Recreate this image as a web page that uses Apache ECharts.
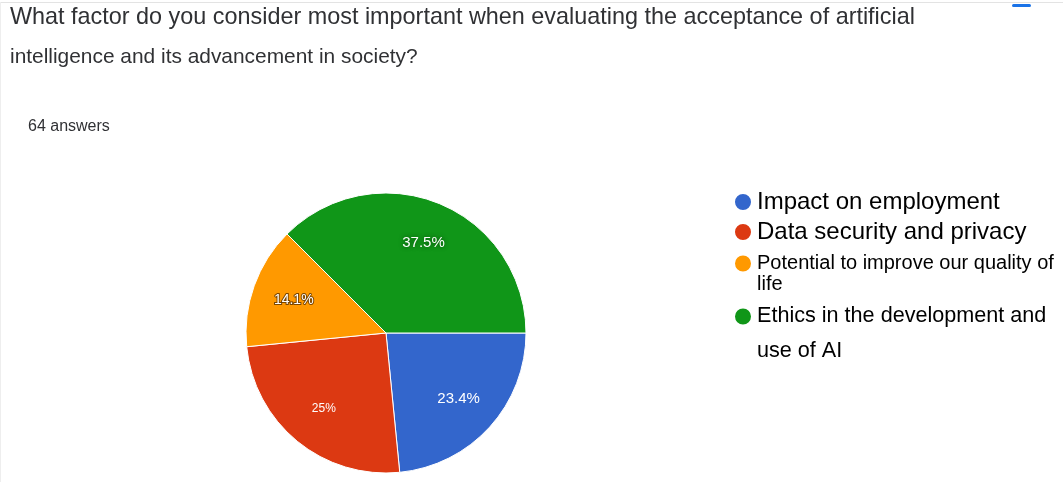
<!DOCTYPE html>
<html>
<head>
<meta charset="utf-8">
<script src="https://cdn.jsdelivr.net/npm/echarts@6/dist/echarts.min.js"></script>
<style>
  html, body { margin: 0; padding: 0; background: #fff; }
  #chart { width: 1063px; height: 482px; }
</style>
</head>
<body>
<div id="chart"></div>
<script>
// Survey responses (64 answers)
const categories = [
  'Impact on employment',
  'Data security and privacy',
  'Potential to improve our quality of life',
  'Ethics in the development and use of AI'
];
const counts = [15, 16, 9, 24];
const percentLabels = ['23.4%', '25%', '14.1%', '37.5%'];
const colors = ['#3366cc', '#dc3912', '#ff9900', '#109618'];
// legend text as shown, with its line breaks; the leading blank line keeps
// the marker beside the first visible line of a wrapped entry
const legendLines = [
  'Impact on employment',
  'Data security and privacy',
  '\nPotential to improve our quality of\nlife',
  '\nEthics in the development and\nuse of AI'
];
const questionLines = [
  'What factor do you consider most important when evaluating the acceptance of artificial',
  'intelligence and its advancement in society?'
];
const answerCount = '64 answers';

const FONT = 'Liberation Sans, Arial, sans-serif';
const CENTER = [386, 333];

// per-slice label styling for the percentages drawn on the pie
const labelStyles = [
  { fontSize: 15 },
  { fontSize: 12 },
  { fontSize: 14, textBorderColor: 'rgba(90,50,0,0.8)', textBorderWidth: 2 },
  { fontSize: 15, textShadowColor: 'rgba(0,40,0,0.8)', textShadowBlur: 4 }
];

const mainData = categories.map((name, i) => ({
  name, value: counts[i], itemStyle: { color: colors[i] }
}));
const labelData = categories.map((name, i) => ({
  name, value: counts[i],
  label: Object.assign({ formatter: percentLabels[i] }, labelStyles[i])
}));

// legend: one component per entry so each can carry its own size and spacing
const legendSpecs = [
  { top: 189, size: 24, lh: 26 },
  { top: 219, size: 24, lh: 26 },
  { top: 232, size: 20, lh: 21 },
  { top: 264, size: 21.6, lh: 35 }
];
const legends = legendSpecs.map((s, i) => ({
  data: [categories[i]],
  left: 733,
  top: s.top,
  padding: 0,
  icon: 'circle',
  itemWidth: 18,
  itemHeight: 18,
  selectedMode: false,
  formatter: () => legendLines[i],
  textStyle: {
    fontFamily: FONT,
    fontSize: s.size,
    lineHeight: s.lh,
    color: '#000'
  }
}));

const chart = echarts.init(document.getElementById('chart'), null, { renderer: 'canvas' });
chart.setOption({
  animation: false,
  backgroundColor: '#fff',
  legend: legends,
  graphic: [
    { type: 'rect', shape: { x: 0, y: 2, width: 1063, height: 1 }, style: { fill: '#e3e3e3' } },
    { type: 'rect', shape: { x: 0, y: 2, width: 1, height: 480 }, style: { fill: '#eeeeee' } },
    { type: 'rect', shape: { x: 1012, y: 4, width: 19, height: 3, r: 1.5 }, style: { fill: '#1a73e8' } },
    { type: 'text', left: 10, top: 6, style: { text: questionLines[0], font: '23.4px ' + FONT, fill: '#303134' } },
    { type: 'text', left: 10, top: 47, style: { text: questionLines[1], font: '20.9px ' + FONT, fill: '#303134' } },
    { type: 'text', left: 28, top: 119, style: { text: answerCount, font: '16px ' + FONT, fill: '#303134' } }
  ],
  series: [
    {
      type: 'pie',
      center: CENTER,
      radius: [0, 140],
      startAngle: 0,
      clockwise: true,
      silent: true,
      label: { show: false },
      labelLine: { show: false },
      itemStyle: { borderColor: '#fff', borderWidth: 1 },
      emphasis: { disabled: true },
      data: mainData
    },
    {
      // label carrier: transparent disc whose mid-radius sits at ~0.68 of the pie radius
      type: 'pie',
      center: CENTER,
      radius: [0, 190],
      startAngle: 0,
      clockwise: true,
      silent: true,
      itemStyle: { color: 'rgba(0,0,0,0)', borderWidth: 0 },
      label: {
        show: true,
        position: 'inside',
        color: '#fff',
        fontFamily: FONT
      },
      labelLine: { show: false },
      emphasis: { disabled: true },
      data: labelData
    }
  ]
});
</script>
</body>
</html>
